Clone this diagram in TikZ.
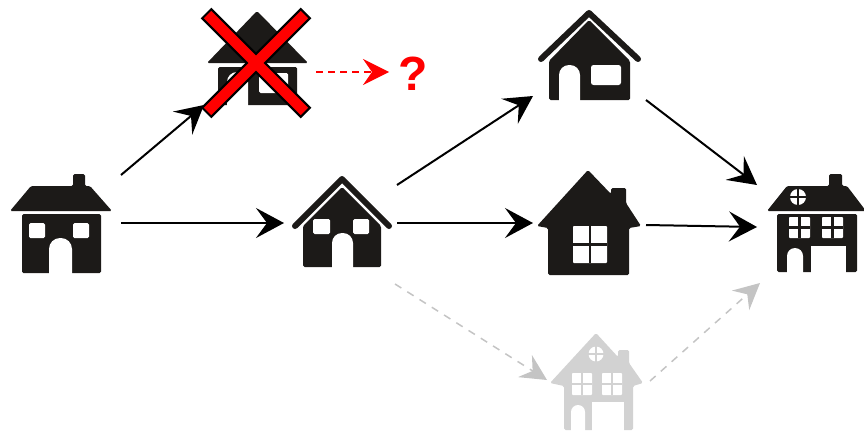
\documentclass[tikz,border=0pt]{standalone}
\usepackage{fontspec}
\setmainfont{Liberation Sans}
\usetikzlibrary{arrows.meta}
\definecolor{ink}{HTML}{1C1A18}
\definecolor{ghost}{HTML}{D2D2D2}
\definecolor{ghostline}{HTML}{C4C4C4}
\definecolor{alarm}{HTML}{FF0000}
\tikzset{
  anchorbox/.style={inner sep=0pt,outer sep=0pt},
  solid part/.style={fill=ink,rounded corners=1.5pt},
  ghost part/.style={fill=ghost,rounded corners=1.5pt},
  hole/.style={fill=white,rounded corners=1.5pt},
  ridge/.style={draw=ink,line width=6pt,line cap=round,line join=round},
  blackarrow/.style={draw=black,line width=2pt,-{Stealth[length=28pt,width=30pt,inset=11pt,fill=black]}},
  grayarrow/.style={draw=ghostline,line width=1.5pt,dash pattern=on 7.5pt off 7pt,-{Stealth[length=26pt,width=26pt,inset=9pt,fill=ghostline]}},
  redarrow/.style={draw=alarm,line width=1.5pt,dash pattern=on 7pt off 5pt,-{Stealth[length=26pt,width=26pt,inset=9pt,fill=alarm]}},
}
\newcommand{\doorway}[5]{\fill[white] (#1,#4) [rounded corners=#5] -- (#1,#3) -- (#2,#3) [sharp corners] -- (#2,#4) -- cycle;}
\newcommand{\panes}[5]{%
  \fill[white,rounded corners=0.8pt] (#1,#3) rectangle (#2,#4);
  \fill[#5] ({(#1+#2)/2-1.2},#3) rectangle ({(#1+#2)/2+1.2},#4);
  \fill[#5] (#1,{(#3+#4)/2-1.2}) rectangle (#2,{(#3+#4)/2+1.2});}
\begin{document}
\begin{tikzpicture}[x=1pt,y=-1pt]
\useasboundingbox (0,0) rectangle (864,431);
% ---- anchors of the houses
\node[anchorbox] (first) at (61,225) {};
\node[anchorbox] (crossed) at (257,60) {};
\node[anchorbox] (second) at (342,222) {};
\node[anchorbox] (upper) at (588,55) {};
\node[anchorbox] (large) at (588,222) {};
\node[anchorbox] (ghosthouse) at (596,382) {};
\node[anchorbox] (final) at (815,223) {};
% ---- first house
\fill[solid part] (10,211) -- (31,186) -- (73,186) -- (73,174) -- (85,174) -- (85,186) -- (90,186) -- (112,211) -- cycle;
\fill[solid part] (22,214) rectangle (101,273);
\fill[hole] (29,223) rectangle (45,238);
\fill[hole] (73,223) rectangle (89,238);
\doorway{49}{72}{238}{274}{11pt}
% ---- crossed house
\fill[solid part] (207,63) -- (257,11) -- (308,63) -- cycle;
\fill[solid part] (218,67) rectangle (297,105);
\doorway{227}{248}{72}{106}{10pt}
\fill[hole] (259,73) rectangle (288,93);
% ---- second house
\fill[solid part] (303,226) -- (342,187) -- (381,226) -- (381,267) -- (303,267) -- cycle;
\draw[ridge] (295,226) -- (342,179) -- (389,226);
\fill[hole] (313,219) rectangle (330,234);
\fill[hole] (353,219) rectangle (369,234);
\doorway{332}{353}{233}{268}{10pt}
% ---- upper house
\fill[solid part] (549,61) -- (589,20) -- (630,61) -- (630,100) -- (549,100) -- cycle;
\draw[ridge] (541,59) -- (589,13) -- (638,59);
\doorway{559}{580}{65}{101}{10pt}
\fill[white,rounded corners=2.5pt] (591,65) rectangle (621,85);
% ---- large house
\fill[solid part] (537,226) -- (588,170) -- (611,194) -- (611,188) -- (626,188) -- (626,203) -- (641,226) -- (629,228) -- (629,275) -- (548,275) -- (548,228) -- cycle;
\panes{573}{607}{226}{263}{ink}
% ---- final house
\fill[solid part] (767,211) -- (787,186) -- (829,186) -- (829,174) -- (842,174) -- (842,186) -- (847,186) -- (866,211) -- cycle;
\fill[solid part] (777,214) rectangle (857,272);
\fill[white] (798,197) circle[radius=8];
\fill[ink] (797,189) rectangle (799,205);
\fill[ink] (790,196) rectangle (806,198);
\panes{789}{810}{217}{238}{ink}
\panes{822}{843}{217}{238}{ink}
\doorway{787}{803}{248}{273}{8pt}
\fill[white] (811,246) rectangle (846,273);
% ---- ghost house
\fill[ghost part] (550,383) -- (596,333) -- (618,357) -- (618,350) -- (629,350) -- (629,363) -- (643,383) -- (633,386) -- (633,430) -- (564,430) -- (564,386) -- cycle;
\fill[white] (596,354) circle[radius=7.5];
\fill[ghost] (595,346) rectangle (597,362);
\fill[ghost] (588,353) rectangle (604,355);
\panes{572}{592}{373}{395}{ghost}
\panes{602}{622}{373}{395}{ghost}
\doorway{571}{585}{405}{431}{7pt}
\fill[white] (592,402) rectangle (624,431);
% ---- connector ends
\coordinate (firstA) at (121,175);
\coordinate (firstB) at (121,223);
\coordinate (crossedIn) at (204,105);
\coordinate (secondIn) at (284,223);
\coordinate (secondA) at (397,185);
\coordinate (secondB) at (397,223);
\coordinate (secondC) at (395,284);
\coordinate (upperIn) at (533,96);
\coordinate (largeIn) at (533,223);
\coordinate (ghostIn) at (547,380);
\coordinate (upperOut) at (646,100);
\coordinate (largeOut) at (646,225);
\coordinate (ghostOut) at (650,381);
\coordinate (finalA) at (757,185);
\coordinate (finalB) at (757,227);
\coordinate (finalC) at (760,283);
\coordinate (crossedOut) at (316,72);
\coordinate (queryIn) at (389,72);
% ---- connectors
\draw[blackarrow] (firstA) -- (crossedIn);
\draw[blackarrow] (firstB) -- (secondIn);
\draw[blackarrow] (secondA) -- (upperIn);
\draw[blackarrow] (secondB) -- (largeIn);
\draw[blackarrow] (upperOut) -- (finalA);
\draw[blackarrow] (largeOut) -- (finalB);
\draw[grayarrow] (secondC) -- (ghostIn);
\draw[grayarrow] (ghostOut) -- (finalC);
\draw[redarrow] (crossedOut) -- (queryIn);
% ---- red cross
\coordinate (crossTL) at (206,13);
\coordinate (crossBR) at (306,113);
\coordinate (crossTR) at (306,13);
\coordinate (crossBL) at (206,113);
\draw[black,line width=15pt] (crossTL) -- (crossBR);
\draw[black,line width=15pt] (crossTR) -- (crossBL);
\draw[alarm,line width=10.5pt,shorten >=2.2pt,shorten <=2.2pt] (crossTL) -- (crossBR);
\draw[alarm,line width=10.5pt,shorten >=2.2pt,shorten <=2.2pt] (crossTR) -- (crossBL);
% ---- question mark
\node[anchorbox,text=alarm,font=\fontsize{48}{48}\selectfont\bfseries] (query) at (413,74) {?};
\end{tikzpicture}
\end{document}
